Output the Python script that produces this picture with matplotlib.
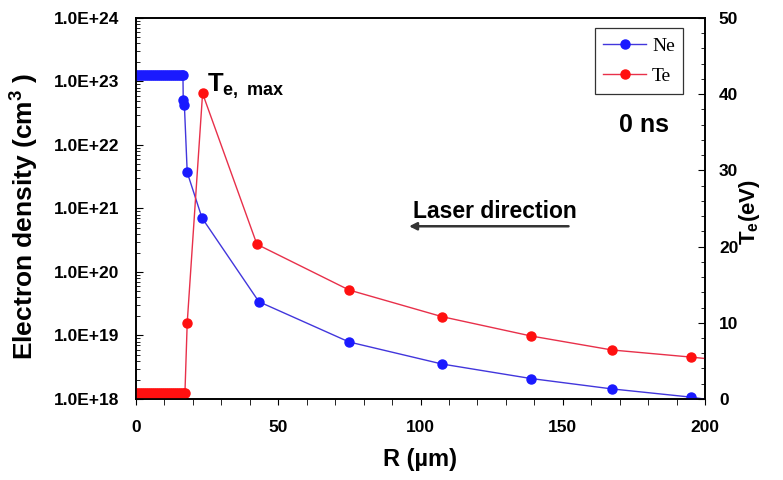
#!/usr/bin/env python3

"""
Electron density and temperature profile at 0 ns
"""

import numpy as np
import matplotlib
matplotlib.use("Agg")
import matplotlib.pyplot as plt
from matplotlib.ticker import FixedLocator, FuncFormatter, MultipleLocator

plt.rcParams["font.family"] = ["Liberation Sans", "DejaVu Sans"]
plt.rcParams["mathtext.fontset"] = "custom"
plt.rcParams["mathtext.rm"] = "Liberation Sans:bold"
plt.rcParams["mathtext.bf"] = "Liberation Sans:bold"
plt.rcParams["mathtext.it"] = "Liberation Sans:bold"

# Electron density (cm^-3) vs R (um)
r_ne = [0, 0.7, 1.4, 2.1, 2.8, 3.5, 4.2, 4.9, 5.6, 6.3, 7.0, 7.7, 8.4, 9.1,
        9.8, 10.5, 11.2, 11.9, 12.6, 13.3, 14.0, 14.7, 15.4, 16.1, 16.5,
        16.6, 17.0, 18.0, 23.2, 43.2, 74.9, 107.6, 138.8, 167.3, 195.0, 203.0]
ne = [1.27e23] * 25 + [5.1e22, 4.3e22, 3.7e21, 7.1e20, 3.4e19, 7.9e18,
                       3.55e18, 2.1e18, 1.44e18, 1.07e18, 0.95e18]

# Electron temperature (eV) vs R (um)
r_te = [0, 0.7, 1.4, 2.1, 2.8, 3.5, 4.2, 4.9, 5.6, 6.3, 7.0, 7.7, 8.4, 9.1,
        9.8, 10.5, 11.2, 11.9, 12.6, 13.3, 14.0, 14.7, 15.4, 16.1, 16.8,
        17.2, 18.0, 23.4, 42.5, 74.9, 107.6, 138.8, 167.3, 195.0, 203.0]
te = [0.8] * 26 + [10.0, 40.1, 20.3, 14.3, 10.8, 8.27, 6.43, 5.5, 5.2]

fig = plt.figure(figsize=(7.83, 4.8), dpi=100)
ax = fig.add_axes([0.1737, 0.1688, 0.7267, 0.7937])
ax2 = ax.twinx()

blue_line = "#4236dc"
red_line = "#e8304a"

h1, = ax.plot(r_ne, ne, "-o", color=blue_line, mfc="#1a1aff", mec="#1a1aff",
              ms=6.5, lw=1.0, label="Ne", zorder=3)
h2, = ax2.plot(r_te, te, "-o", color=red_line, mfc="#ff1010", mec="#ff1010",
               ms=6.5, lw=1.0, label="Te", zorder=2)

# left axis (log)
ax.set_yscale("log")
ax.set_ylim(1e18, 1e24)
ax.set_xlim(0, 200)
ax.yaxis.set_major_locator(FixedLocator([10.0 ** k for k in range(18, 25)]))
ax.yaxis.set_major_formatter(
    FuncFormatter(lambda v, p: "1.0E+%d" % round(np.log10(v))))
ax.xaxis.set_major_locator(MultipleLocator(50))
ax.xaxis.set_minor_locator(MultipleLocator(10))

# right axis
ax2.set_ylim(0, 50)
ax2.yaxis.set_major_locator(MultipleLocator(10))
ax2.yaxis.set_minor_locator(MultipleLocator(2))

for a in (ax, ax2):
    for s in a.spines.values():
        s.set_linewidth(1.2)
ax.tick_params(axis="y", which="both", direction="in", labelsize=12.5, pad=12)
ax.tick_params(axis="y", which="major", length=5)
ax.tick_params(axis="y", which="minor", length=3)
ax.tick_params(axis="x", which="both", direction="out", labelsize=12.5,
               pad=11)
ax.tick_params(axis="x", which="major", length=4)
ax.tick_params(axis="x", which="minor", length=4)
ax2.tick_params(axis="y", which="both", direction="in", labelsize=12.5, pad=10)
ax2.tick_params(axis="y", which="major", length=5)
ax2.tick_params(axis="y", which="minor", length=3)
for lab in ax.get_xticklabels() + ax.get_yticklabels() + ax2.get_yticklabels():
    lab.set_fontweight("bold")

ax.set_xlabel("R (µm)", fontsize=17, fontweight="bold")
ax.set_ylabel("Electron density (cm$^{3}$ )", fontsize=19, fontweight="bold")
ax2.set_ylabel("T$_e$(eV)", fontsize=16, fontweight="bold")
ax.xaxis.set_label_coords(0.499, -0.129)
ax.yaxis.set_label_coords(-0.167, 0.480)
ax2.yaxis.set_label_coords(1.056, 0.49)

# annotations
ax.text(25, 10 ** 22.84, r"T$_{e,\ max}$", fontsize=18.5, fontweight="bold")
ax.text(178.7, 10 ** 22.31, "0 ns", fontsize=18, fontweight="bold",
        ha="center", va="center")
ax.text(126, 10 ** 20.95, "Laser direction", fontsize=16.5,
        fontweight="bold", ha="center", va="center")
ax.annotate("", xy=(95, 10 ** 20.72), xytext=(153, 10 ** 20.72),
            arrowprops=dict(arrowstyle="-|>", color="#333333", lw=1.8,
                            mutation_scale=11))

leg = ax.legend(handles=[h1, h2], loc="upper right", fancybox=False,
                edgecolor="#333333", framealpha=1,
                prop={"family": "Liberation Serif", "size": 14},
                bbox_to_anchor=(0.962, 0.973), handlelength=2.2,
                borderpad=0.45, labelspacing=0.65, handletextpad=0.3,
                borderaxespad=0)
leg.get_frame().set_linewidth(0.9)

plt.savefig("out.png", dpi=100)
